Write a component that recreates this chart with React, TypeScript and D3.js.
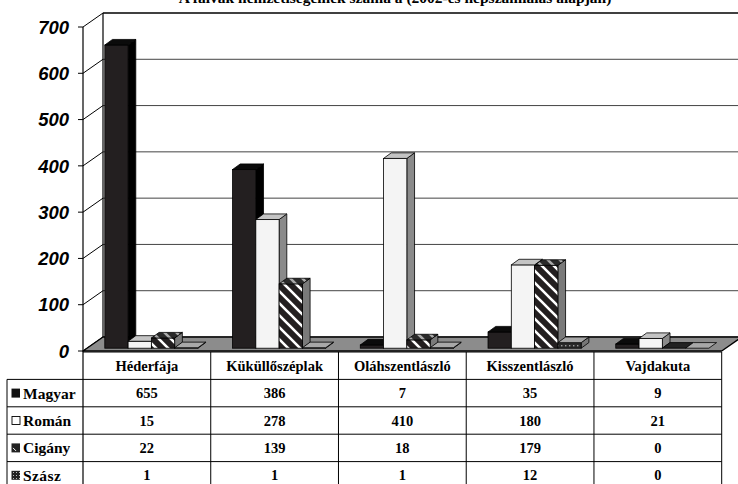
import React from "react";
import * as d3 from "d3";

const categories = ["Héderfája", "Küküllőszéplak", "Oláhszentlászló", "Kisszentlászló", "Vajdakuta"];
const seriesNames = ["Magyar", "Román", "Cigány", "Szász"];
const magyar = [655, 386, 7, 35, 9];
const roman = [15, 278, 410, 180, 21];
const cigany = [22, 139, 18, 179, 0];
const szasz = [1, 1, 1, 12, 0];
const yTicks = [0, 100, 200, 300, 400, 500, 600, 700];
const titleText = "A falvak nemzetiségeinek száma a (2002-es népszámlálás alapján)";

const seriesValues = [magyar, roman, cigany, szasz];

const W = 738;
const H = 484;
const axisX = 83;
const rightX = 721.7;
const wallDX = 20;
const wallDY = -14;
const frontDX = 4.5;
const frontDY = -2.8;
const barDX = 7.7;
const barDY = -5.6;

const styles = [
  { front: "#231f20", top: "#0b0b0b", side: "#000000" },
  { front: "#f4f4f4", top: "#c4c4c4", side: "#8a8a8a" },
  { front: "url(#stripes)", top: "url(#stripesTop)", side: "#7a7a7a" },
  { front: "url(#dots)", top: "#a8a8a8", side: "#777777" },
];

export default function App() {
  const y = d3.scaleLinear().domain([0, 700]).range([351, 27]);
  const x = d3.scaleBand<string>().domain(categories).range([axisX, rightX]).padding(0);
  const bw = x.bandwidth();
  const gapHalf = 17.3;

  const rowTop = 352;
  const rowH = 27.4;
  const tableLeft = 7;
  const serif = "'Liberation Serif', 'Times New Roman', serif";
  const sans = "'Liberation Sans', Arial, sans-serif";

  const bars: React.ReactNode[] = [];
  categories.forEach((c, ci) => {
    const x0c = (x(c) as number) + gapHalf + frontDX;
    const xs = d3.scaleBand<string>().domain(seriesNames).range([x0c, x0c + bw - 2 * gapHalf]).padding(0);
    seriesNames.forEach((s, si) => {
      const v = seriesValues[si][ci];
      const bx = xs(s) as number;
      const w = xs.bandwidth();
      const yTop = y(v) + frontDY;
      const yBase = y(0) + frontDY;
      const st = styles[si];
      const topPts = [
        [bx, yTop], [bx + barDX, yTop + barDY], [bx + w + barDX, yTop + barDY], [bx + w, yTop],
      ].map((p) => p.join(",")).join(" ");
      const sidePts = [
        [bx + w, yTop], [bx + w + barDX, yTop + barDY], [bx + w + barDX, yBase + barDY], [bx + w, yBase],
      ].map((p) => p.join(",")).join(" ");
      bars.push(
        <g key={c + s}>
          {v > 0 && (
            <polygon points={sidePts} fill={st.side} stroke="#000" strokeWidth={0.8} strokeLinejoin="round" />
          )}
          {v > 0 && (
            <rect x={bx} y={yTop} width={w} height={yBase - yTop} fill={st.front} stroke="#000" strokeWidth={0.8} />
          )}
          <polygon points={topPts} fill={v === 0 && si === 2 ? "#222" : st.top} stroke="#000" strokeWidth={0.8} strokeLinejoin="round" />
        </g>
      );
    });
  });

  const backLeft = axisX + wallDX;
  const backRight = W + 5;

  return (
    <svg width={W} height={H} style={{ position: "absolute", left: 0, top: 0, background: "#fff" }}>
      <defs>
        <pattern id="stripes" patternUnits="userSpaceOnUse" width={12} height={12}>
          <rect width={12} height={12} fill="#231f20" />
          <path d="M-3,-3 L15,15 M-3,9 L3,15 M9,-3 L15,3" stroke="#fff" strokeWidth={2.6} />
        </pattern>
        <pattern id="stripesTop" patternUnits="userSpaceOnUse" width={12} height={12}>
          <rect width={12} height={12} fill="#2a2a2a" />
          <path d="M-3,-3 L15,15 M-3,9 L3,15 M9,-3 L15,3" stroke="#aaa" strokeWidth={2.6} />
        </pattern>
        <pattern id="dots" patternUnits="userSpaceOnUse" width={4} height={4}>
          <rect width={4} height={4} fill="#2a2a2a" />
          <rect x={1} y={1} width={1.4} height={1.4} fill="#9a9a9a" />
        </pattern>
        <pattern id="dotsKey" patternUnits="userSpaceOnUse" width={3} height={3}>
          <rect width={3} height={3} fill="#222" />
          <rect x={1} y={1} width={1} height={1} fill="#bbb" />
        </pattern>
      </defs>

      {/* title (cut off at top, as in the reference) */}
      <text x={395} y={2.5} textAnchor="middle" fontFamily={serif} fontWeight="bold" fontSize={15.5} fill="#000">
        {titleText}
      </text>

      {/* back wall */}
      <rect x={backLeft} y={y(700) + wallDY} width={backRight - backLeft} height={y(0) - y(700)} fill="#fff" />
      {/* left wall */}
      <polygon
        points={`${axisX},${y(700)} ${backLeft},${y(700) + wallDY} ${backLeft},${y(0) + wallDY} ${axisX},${y(0)}`}
        fill="#fff"
      />
      {/* gridlines */}
      {yTicks.map((t) => (
        <g key={"g" + t}>
          <line x1={backLeft} x2={backRight} y1={y(t) + wallDY} y2={y(t) + wallDY} stroke={t === 700 ? "#000" : "#444"} strokeWidth={t === 700 ? 1.4 : 1} />
          <line x1={axisX} x2={backLeft} y1={y(t)} y2={y(t) + wallDY} stroke="#000" strokeWidth={1} />
        </g>
      ))}
      <line x1={backLeft} x2={backLeft} y1={y(700) + wallDY} y2={y(0) + wallDY} stroke="#000" strokeWidth={1.2} />

      {/* floor */}
      <polygon
        points={`${axisX},${y(0)} ${rightX},${y(0)} ${rightX + wallDX},${y(0) + wallDY} ${backLeft},${y(0) + wallDY}`}
        fill="#8c8c8c"
        stroke="#000"
        strokeWidth={1.4}
        strokeLinejoin="round"
      />

      {bars}

      {/* y axis */}
      <line x1={axisX} x2={axisX} y1={y(700)} y2={H} stroke="#000" strokeWidth={1.2} />
      {yTicks.map((t) => (
        <g key={"t" + t}>
          <line x1={axisX - 5} x2={axisX} y1={y(t)} y2={y(t)} stroke="#000" strokeWidth={1} />
          <text
            x={69}
            y={y(t)}
            dy="0.36em"
            textAnchor="end"
            fontFamily={sans}
            fontWeight="bold"
            fontStyle="italic"
            fontSize={18.5}
            fill="#000"
          >
            {t}
          </text>
        </g>
      ))}

      {/* data table */}
      <g fontFamily={serif} fontWeight="bold" fontSize={14.5} fill="#000">
        <line x1={axisX} x2={rightX} y1={rowTop} y2={rowTop} stroke="#000" strokeWidth={1} />
        {categories.map((c) => (
          <text key={"h" + c} x={(x(c) as number) + bw / 2} y={rowTop + rowH / 2} dy="0.35em" textAnchor="middle">
            {c}
          </text>
        ))}
        {seriesNames.map((s, si) => {
          const ry = rowTop + rowH * (si + 1);
          const cy = ry + rowH / 2;
          return (
            <g key={"r" + s}>
              <line x1={tableLeft} x2={rightX} y1={ry} y2={ry} stroke="#000" strokeWidth={1} />
              {si === 0 && <rect x={11.5} y={cy - 4.5} width={8.5} height={9} fill="#111" />}
              {si === 1 && <rect x={12} y={cy - 4} width={8} height={8} fill="#fff" stroke="#000" strokeWidth={0.9} />}
              {si === 2 && (
                <g>
                  <rect x={11.5} y={cy - 4.5} width={8.5} height={9} fill="#222" />
                  <line x1={13} y1={cy} x2={16} y2={cy + 3} stroke="#fff" strokeWidth={1} />
                </g>
              )}
              {si === 3 && <rect x={11.5} y={cy - 4.5} width={8.5} height={9} fill="url(#dotsKey)" />}
              <text x={23} y={cy} dy="0.35em" fontSize={15.5} letterSpacing={si === 3 ? 0.4 : 0}>
                {s}
              </text>
              {categories.map((c, ci) => (
                <text key={"v" + s + c} x={(x(c) as number) + bw / 2} y={cy} dy="0.35em" textAnchor="middle">
                  {seriesValues[si][ci]}
                </text>
              ))}
            </g>
          );
        })}
        <line x1={tableLeft} x2={tableLeft} y1={rowTop + rowH} y2={H} stroke="#000" strokeWidth={1} />
        {categories.map((c) => (
          <line key={"vl" + c} x1={(x(c) as number) + bw} x2={(x(c) as number) + bw} y1={rowTop} y2={H} stroke="#000" strokeWidth={1} />
        ))}
      </g>
    </svg>
  );
}
